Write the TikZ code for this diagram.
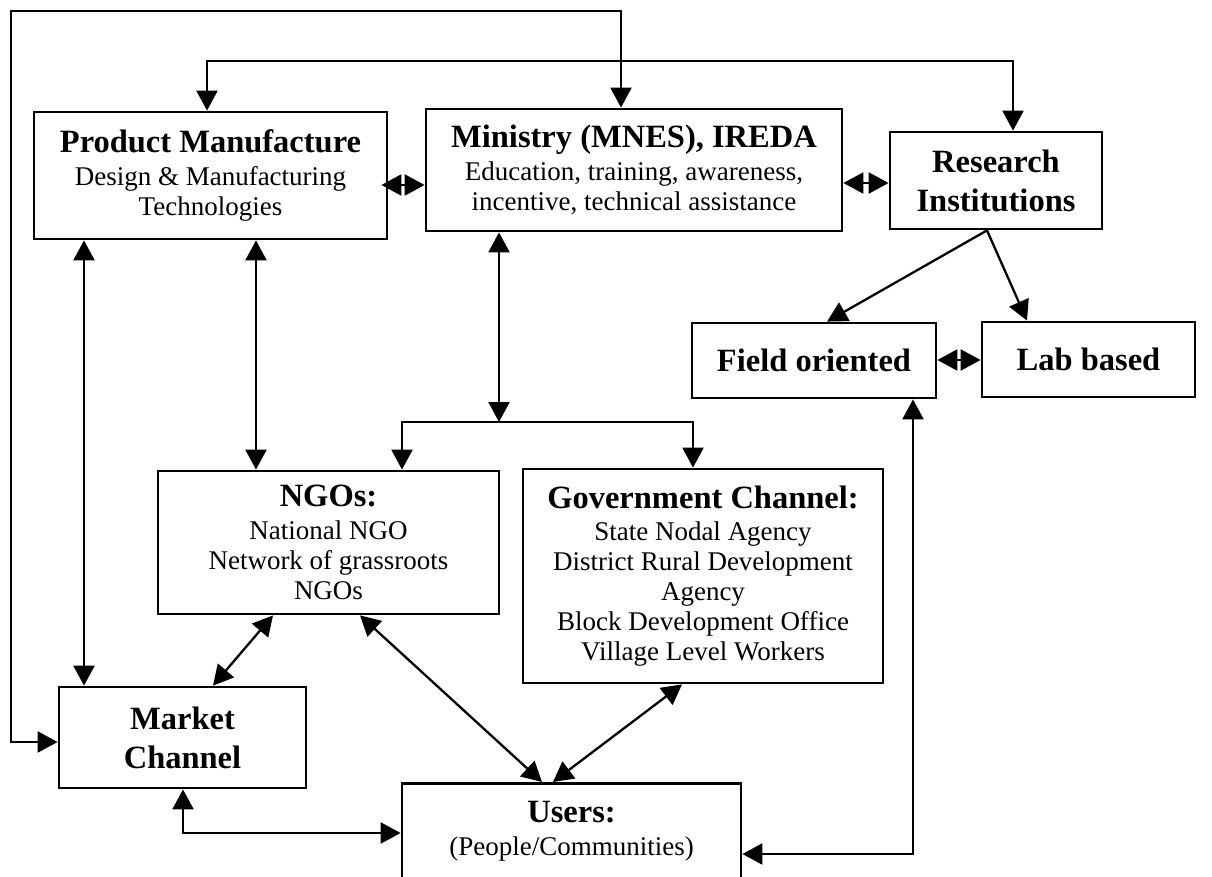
\documentclass[tikz,border=0pt]{standalone}
\usepackage{fontspec}
\setmainfont{Liberation Serif}
\usetikzlibrary{arrows.meta}
\newcommand\boxhead[1]{{\bfseries\fontsize{32.5}{30}\selectfont #1}}

\begin{document}
\begin{tikzpicture}[x=1pt,y=-1pt,
  box/.style={draw, line width=2.8pt, rectangle, align=center, inner sep=0pt,
              font=\fontsize{27}{30}\selectfont},
  link/.style={line width=2.3pt,
               {Triangle[length=20pt,width=21pt]}-{Triangle[length=20pt,width=21pt]}},
  feed/.style={line width=2.3pt, -{Triangle[length=20pt,width=21pt]}}]
\useasboundingbox (0,0) rectangle (1212,877);
\clip (0,0) rectangle (1212,877);
\fill[white] (0,0) rectangle (1212,877);

% top row
\node[box, minimum width=353, minimum height=127] (pm) at (210.5,175.5)
  {\boxhead{Product Manufacture}\\[3pt]Design \& Manufacturing\\Technologies};
\node[box, minimum width=416, minimum height=122] (min) at (634,170)
  {\boxhead{Ministry (MNES), IREDA}\\[3pt]Education, training, awareness,\\incentive, technical assistance};
\node[box, minimum width=212, minimum height=97] (res) at (996,180.5)
  {\boxhead{Research}\\[9pt]\boxhead{Institutions}};

% research branches
\node[box, minimum width=244, minimum height=75] (field) at (814,360.5)
  {\boxhead{Field oriented}};
\node[box, minimum width=213, minimum height=75] (lab) at (1088.5,359.5)
  {\boxhead{Lab based}};

% delivery channels
\node[box, minimum width=341, minimum height=143] (ngo) at (328.5,542.5)
  {\boxhead{NGOs:}\\[3pt]National NGO\\Network of grassroots\\NGOs};
\node[box, minimum width=360, minimum height=214] (gov) at (703,576)
  {\boxhead{Government Channel:}\\[2pt]State Nodal Agency\\District Rural Development\\Agency\\Block Development Office\\Village Level Workers};
\node[box, minimum width=247, minimum height=101] (market) at (182.5,737.5)
  {\boxhead{Market}\\[9pt]\boxhead{Channel}};

% users (runs off the lower edge)
\node[box, anchor=north, minimum width=339, inner ysep=18pt] (users) at (571.5,782)
  {\boxhead{Users:}\\[3pt](People/Communities)\\[40pt]\mbox{}};

% outer feedback loops
\draw[link] (min.north -| 621,0) -- (621,11) -- (11,11) -- (11,742) -- (market.west |- 0,742);
\draw[link] (pm.north -| 207,0) -- (207,61) -- (1013,61) -- (res.north -| 1013,0);

% top row links
\draw[link, shorten <=-7pt] (pm.east |- 0,185) -- (min.west |- 0,185);
\draw[link] (min.east |- 0,183) -- (res.west |- 0,183);

% product manufacture downwards
\draw[link] (pm.south -| 84,0) -- (market.north -| 84,0);
\draw[link] (pm.south -| 256,0) -- (ngo.north -| 256,0);

% ministry to the two channels
\coordinate (fork) at (499,422);
\draw[link] (min.south -| fork) -- (fork);
\draw[link] (ngo.north -| 402,0) -- (402,422) -- (693,422) -- (gov.north -| 693,0);

% research institutions
\coordinate (rfoot) at (res.south -| 987,0);
\draw[feed] (rfoot) -- (field.north -| 827,0);
\draw[feed] (rfoot) -- (lab.north -| 1027,0);
\draw[link] (field.east |- 0,360) -- (lab.west |- 0,360);

% links to users
\draw[link] (field.south -| 913,0) -- (913,854) -- (users.east |- 0,854);
\draw[link] (ngo.south -| 273,0) -- (market.north -| 213,0);
\draw[link] (ngo.south -| 360,0) -- (users.north -| 542,0);
\draw[link] (gov.south -| 682,0) -- (users.north -| 553,0);
\draw[link] (market.south -| 183,0) -- (183,833) -- (users.west |- 0,833);
\end{tikzpicture}
\end{document}
